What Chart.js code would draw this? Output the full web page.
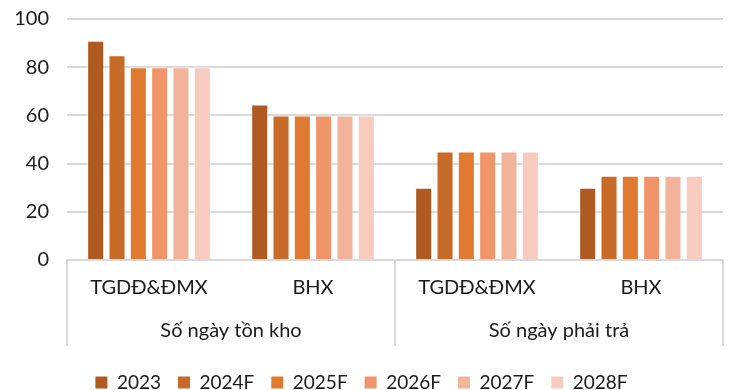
<!DOCTYPE html>
<html>
<head>
<meta charset="utf-8">
<script src="https://cdn.jsdelivr.net/npm/chart.js@4"></script>
<style>
  html, body { margin: 0; padding: 0; background: #fff; }
  #wrap { width: 733px; height: 390px; }
</style>
</head>
<body>
<div id="wrap"><canvas id="myChart" width="733" height="390"></canvas></div>
<script>
const categories = ['TGDĐ&ĐMX', 'BHX', 'TGDĐ&ĐMX', 'BHX'];
const groups = ['Số ngày tồn kho', 'Số ngày phải trả'];
const groupSizes = [2, 2];
const years = ['2023', '2024F', '2025F', '2026F', '2027F', '2028F'];
const v2023 = [91, 64.5, 30, 30];
const v2024 = [85, 60, 45, 35];
const v2025 = [80, 60, 45, 35];
const v2026 = [80, 60, 45, 35];
const v2027 = [80, 60, 45, 35];
const v2028 = [80, 60, 45, 35];
const colors = ['#AE5A21', '#C86A28', '#E07A30', '#F0956A', '#F3B39B', '#F7CBBE'];

const series = [v2023, v2024, v2025, v2026, v2027, v2028];
const FONT = 'Lato';
const FSIZE = 20;

// group labels + separators under the category labels
const groupAxis = {
    id: 'groupAxis',
    afterDraw(chart) {
        const ctx = chart.ctx;
        const x = chart.scales.x;
        const top = chart.chartArea.bottom;
        const half = (x.getPixelForValue(1) - x.getPixelForValue(0)) / 2;
        ctx.save();
        ctx.strokeStyle = '#d9d9d9';
        ctx.lineWidth = 2;
        ctx.fillStyle = '#1a1a1a';
        ctx.font = FSIZE + 'px ' + FONT;
        ctx.textAlign = 'center';
        ctx.textBaseline = 'middle';
        let start = 0;
        groups.forEach((g, i) => {
            const end = start + groupSizes[i] - 1;
            const l = x.getPixelForValue(start) - half;
            const r = x.getPixelForValue(end) + half;
            ctx.beginPath();
            ctx.moveTo(l, top);
            ctx.lineTo(l, top + 86);
            ctx.moveTo(r, top);
            ctx.lineTo(r, top + 86);
            ctx.stroke();
            ctx.fillText(g, (l + r) / 2, top + 71);
            start = end + 1;
        });
        ctx.restore();
    }
};

const ctx = document.getElementById('myChart').getContext('2d');

const myChart = new Chart(ctx, {
    type: 'bar',
    data: {
        labels: categories,
        datasets: years.map((y, i) => ({
            label: y,
            data: series[i],
            backgroundColor: colors[i],
            borderColor: 'rgba(255,255,255,0.5)',
            borderWidth: 1,
            categoryPercentage: 0.78,
            barPercentage: 0.8
        }))
    },
    options: {
        responsive: false,
        maintainAspectRatio: false,
        animation: false,
        layout: { padding: { top: 19, right: 10, left: 0, bottom: -12 } },
        scales: {
            x: {
                grid: { display: false, drawTicks: false },
                border: { display: true, color: '#d9d9d9', width: 2 },
                ticks: {
                    color: '#1a1a1a',
                    font: { family: FONT, size: FSIZE },
                    padding: 16,
                    maxRotation: 0,
                    autoSkip: false
                },
                afterFit: s => { s.height = 96; }
            },
            y: {
                min: 0,
                max: 100,
                ticks: {
                    stepSize: 20,
                    color: '#1a1a1a',
                    font: { family: FONT, size: FSIZE },
                    padding: 18
                },
                grid: { color: '#d9d9d9', lineWidth: 2, drawTicks: false },
                border: { display: false },
                afterFit: s => { s.width = 67; s.paddingTop = 0; s.paddingBottom = 0; }
            }
        },
        plugins: {
            legend: {
                position: 'bottom',
                labels: {
                    boxWidth: 12,
                    boxHeight: 12,
                    padding: 17,
                    color: '#1a1a1a',
                    font: { family: FONT, size: 19 },
                    generateLabels: chart => Chart.defaults.plugins.legend.labels.generateLabels(chart)
                        .map(l => Object.assign(l, { lineWidth: 0 }))
                }
            },
            tooltip: { enabled: false }
        }
    },
    plugins: [groupAxis]
});
</script>
</body>
</html>
